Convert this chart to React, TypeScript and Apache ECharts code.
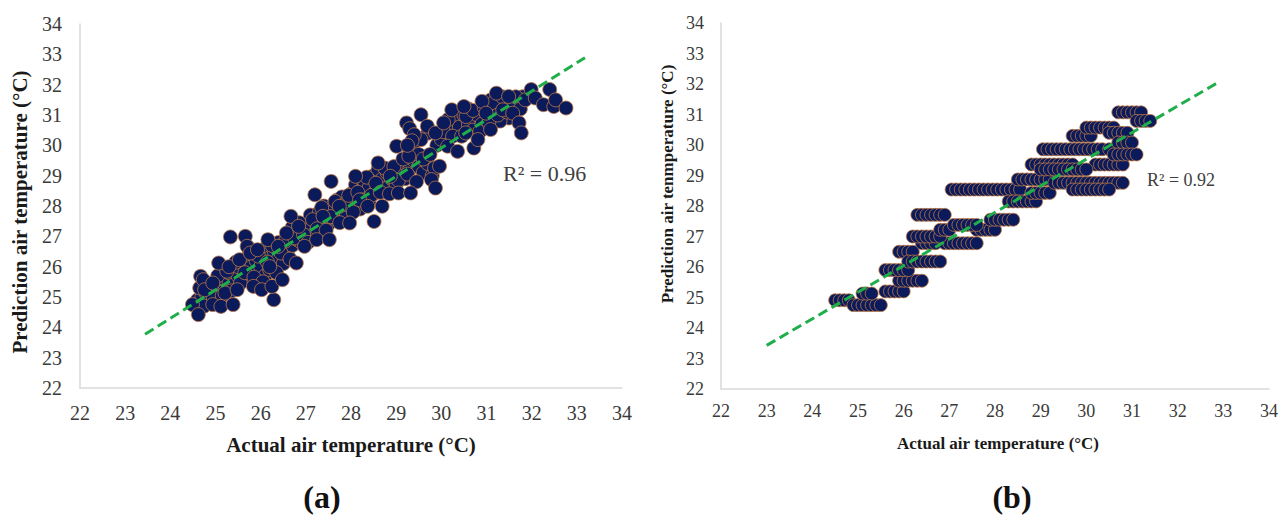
import React, { useEffect, useRef } from "react";
import * as echarts from "echarts";

// ---------- Data ----------
const ticks = [22, 23, 24, 25, 26, 27, 28, 29, 30, 31, 32, 33, 34];

// (a) scattered points: [actual, predicted]
const leftOuter: number[][] = [
  [24.49, 24.75], [24.62, 24.42], [24.67, 25.68], [24.73, 25.57], [24.76, 25.24], [24.94, 25.46],
  [24.94, 24.75], [25.07, 26.12], [25.12, 24.69], [25.21, 25.13], [25.33, 26.98], [25.39, 24.75],
  [25.3, 26.0], [25.48, 25.24], [25.53, 26.23], [25.66, 27.0], [25.7, 26.67], [25.77, 26.45],
  [25.84, 25.35], [25.93, 26.56], [26.02, 25.24], [26.16, 26.89], [26.2, 26.0], [26.29, 24.91],
  [26.25, 25.35], [26.39, 26.67], [26.48, 25.57], [26.57, 27.11], [26.67, 27.66], [26.79, 26.12],
  [26.84, 27.33], [26.97, 26.67], [27.2, 28.37], [27.24, 26.89], [27.38, 27.66], [27.52, 26.89],
  [27.56, 28.81], [27.74, 27.99], [27.97, 27.44], [28.1, 28.98], [28.19, 28.2], [28.37, 27.99],
  [28.51, 27.49], [28.6, 29.42], [28.69, 27.99], [28.87, 28.98], [29.01, 29.97], [29.05, 28.43],
  [29.23, 30.74], [29.28, 29.64], [29.32, 28.43], [29.55, 31.01], [29.55, 30.19], [29.69, 30.63],
  [29.78, 28.87], [29.87, 30.41], [29.87, 28.59], [29.96, 29.31], [30.05, 30.74], [30.14, 29.97],
  [30.23, 31.17], [30.36, 29.8], [30.5, 31.28], [30.54, 30.41], [30.72, 29.91], [30.81, 30.19],
  [30.9, 31.45], [30.99, 31.06], [31.09, 30.52], [31.22, 31.72], [31.36, 31.17], [31.49, 31.61],
  [31.58, 31.06], [31.72, 30.74], [31.77, 30.41], [31.86, 31.5], [31.99, 31.84], [32.08, 31.56],
  [32.26, 31.34], [32.4, 31.84], [32.49, 31.28], [32.53, 31.5], [32.76, 31.23],
  [29.3, 30.55], [29.4, 30.35], [29.35, 30.15], [29.25, 30.0],
];

const leftInner: number[][] = [
  [24.6, 24.9], [24.7, 25.0], [24.8, 25.1], [24.9, 25.2], [24.85, 24.9], [25.0, 25.0], [25.0, 25.3],
  [25.1, 25.4], [25.2, 25.6], [25.2, 25.2], [25.3, 25.5], [25.3, 25.8], [25.4, 25.9], [25.4, 25.4],
  [25.5, 25.7], [25.5, 26.0], [25.6, 25.6], [25.6, 26.2], [25.7, 25.9], [25.7, 26.3], [25.8, 26.0],
  [25.8, 26.5], [25.9, 25.8], [25.9, 26.2], [26.0, 26.0], [26.0, 26.4], [26.1, 26.6], [26.1, 25.7],
  [26.2, 26.3], [26.2, 25.9], [26.3, 26.5], [26.3, 26.1], [26.4, 26.3], [26.4, 26.8], [26.5, 26.6],
  [26.5, 26.1], [26.6, 26.4], [26.6, 27.0], [26.7, 26.7], [26.7, 27.3], [26.8, 26.9], [26.8, 27.1],
  [26.9, 27.2], [26.9, 26.8], [27.0, 27.0], [27.0, 27.4], [27.1, 27.3], [27.1, 27.7], [27.2, 27.5],
  [27.2, 27.1], [27.3, 27.8], [27.3, 27.3], [27.4, 27.6], [27.4, 28.0], [27.5, 27.4], [27.5, 27.8],
  [27.6, 28.0], [27.6, 27.6], [27.7, 28.2], [27.7, 27.7], [27.8, 27.9], [27.8, 28.3], [27.9, 28.1],
  [27.9, 27.7], [28.0, 28.4], [28.0, 28.0], [28.1, 28.2], [28.1, 28.7], [28.2, 28.5], [28.2, 27.9],
  [28.3, 28.8], [28.3, 28.3], [28.4, 28.6], [28.4, 28.1], [28.5, 29.0], [28.5, 28.4], [28.6, 28.7],
  [28.6, 29.2], [28.7, 28.9], [28.7, 28.5], [28.8, 29.1], [28.8, 28.6], [28.9, 28.9], [29.0, 29.2],
  [29.0, 28.7], [29.1, 29.0], [29.2, 29.4], [29.2, 28.9], [29.3, 29.8], [29.3, 29.2], [29.4, 29.5],
  [29.4, 30.1], [29.5, 29.3], [29.5, 29.7], [29.6, 29.1], [29.7, 29.4], [29.7, 30.4], [29.8, 29.0],
  [29.9, 30.0], [30.0, 30.2], [30.2, 30.5], [30.3, 30.9], [30.4, 30.6], [30.5, 31.0], [30.6, 30.7],
  [30.6, 31.2], [30.7, 30.5], [30.8, 31.0], [30.9, 30.7], [31.0, 31.3], [31.1, 31.0], [31.1, 31.5],
  [31.2, 31.2], [31.3, 31.5], [31.4, 31.3], [31.5, 31.5], [31.6, 31.3], [31.7, 31.5], [31.8, 31.6],
  [31.5, 30.9], [31.3, 30.8],
  // denser core
  [24.65, 25.3], [24.75, 24.7], [24.95, 25.0], [25.05, 25.7], [25.15, 25.05], [25.25, 25.85],
  [25.35, 25.2], [25.45, 26.15], [25.55, 25.45], [25.65, 25.8], [25.75, 26.6], [25.85, 25.65],
  [25.95, 26.35], [26.05, 25.5], [26.15, 26.15], [26.25, 26.7], [26.35, 25.8], [26.45, 26.45],
  [26.55, 26.85], [26.65, 26.25], [26.75, 26.95], [26.85, 27.45], [26.95, 27.05], [27.05, 26.8],
  [27.15, 27.55], [27.25, 27.25], [27.35, 27.95], [27.45, 27.2], [27.55, 27.65], [27.65, 28.15],
  [27.75, 27.45], [27.85, 28.05], [27.95, 28.35], [28.05, 27.8], [28.15, 28.45], [28.25, 28.2],
  [28.35, 28.95], [28.45, 28.35], [28.55, 28.75], [28.65, 28.45], [28.75, 29.25], [28.85, 28.4],
  [28.95, 29.3], [29.05, 28.85], [29.15, 29.55], [29.25, 29.05], [29.45, 28.8], [29.6, 29.55],
  [29.75, 29.7], [29.85, 29.25], [30.05, 30.45], [30.15, 30.85], [30.25, 30.3], [30.45, 30.3],
  [30.55, 30.95], [30.7, 31.15], [30.85, 30.45], [30.95, 31.25], [31.05, 30.75], [31.15, 31.4],
  [31.25, 31.0], [31.35, 31.6], [31.45, 31.1], [31.55, 31.35], [31.65, 31.6], [31.75, 31.2],
];

// (b) predicted values come in discrete levels: one list of actual values per level
const rightLevels = [
  24.91, 24.75, 25.13, 25.2, 25.55, 25.9, 26.5, 26.18, 26.78, 27.0, 27.22, 27.38, 27.71, 27.55,
  28.54, 28.15, 28.43, 28.87, 28.76, 28.54, 29.36, 29.2, 29.86, 30.3, 30.57, 30.4, 30.08, 29.69,
  31.07, 30.79,
];
const rightActual: number[][] = [
  [24.5, 24.6, 24.7, 24.8],
  [24.9, 25.0, 25.1, 25.2, 25.3, 25.4, 25.5],
  [25.1, 25.2, 25.3],
  [25.6, 25.7, 25.8, 25.9, 26.0],
  [25.9, 26.0, 26.1, 26.2, 26.3, 26.4],
  [25.6, 25.7, 25.8, 25.9, 26.0, 26.1],
  [25.9, 26.0, 26.1, 26.2],
  [26.1, 26.2, 26.3, 26.4, 26.5, 26.6, 26.7, 26.8],
  [26.4, 26.5, 26.6, 26.7, 26.9, 27.0, 27.1, 27.2, 27.3, 27.4, 27.5, 27.6],
  [26.2, 26.3, 26.4, 26.5, 26.6, 26.7, 26.8],
  [26.8, 26.9, 27.0, 27.6, 27.7, 27.8, 27.9, 28.0],
  [27.1, 27.2, 27.3, 27.4, 27.5, 27.6],
  [26.3, 26.4, 26.5, 26.6, 26.7, 26.8, 26.9],
  [27.9, 28.0, 28.1, 28.2, 28.3, 28.4],
  [27.05, 27.15, 27.25, 27.35, 27.45, 27.55, 27.65, 27.75, 27.85, 27.95, 28.05, 28.15, 28.25, 28.35, 28.45, 28.55],
  [28.3, 28.4, 28.5, 28.6, 28.7, 28.8, 28.9],
  [28.8, 28.9, 29.0, 29.1, 29.2],
  [28.5, 28.6, 28.7, 28.8, 28.9, 29.0, 29.1, 29.2],
  [29.3, 29.4, 29.5, 29.6, 29.7, 29.8, 29.9, 30.0, 30.1, 30.2, 30.3, 30.4, 30.5, 30.6, 30.7, 30.8],
  [29.7, 29.8, 29.9, 30.0, 30.1, 30.2, 30.3, 30.4, 30.5],
  [28.8, 28.9, 29.0, 29.1, 29.2, 29.3, 29.4, 29.5, 29.6, 29.7, 30.2, 30.3, 30.4, 30.5, 30.6, 30.7, 30.8],
  [29.0, 29.1, 29.2, 29.3, 29.4, 29.5, 29.6, 29.7, 29.8, 29.9, 30.0],
  [29.05, 29.15, 29.25, 29.35, 29.45, 29.55, 29.65, 29.75, 29.85, 29.95, 30.05, 30.15, 30.25, 30.35, 30.5],
  [29.7, 29.8, 29.9, 30.0, 30.1],
  [30.0, 30.1, 30.2, 30.3, 30.4, 30.5, 30.6],
  [30.5, 30.6, 30.7, 30.8, 30.9],
  [30.7, 30.8, 30.9, 31.0],
  [30.6, 30.7, 30.8, 30.9, 31.0, 31.1],
  [30.7, 30.8, 30.9, 31.0, 31.1, 31.2],
  [31.1, 31.2, 31.3, 31.4],
];

// trend lines (end points)
const leftTrend: number[][] = [[23.44, 23.77], [33.18, 32.89]];
const rightTrend: number[][] = [[23.0, 23.43], [32.85, 32.02]];
const leftR2 = "R² = 0.96";
const rightR2 = "R² = 0.92";

// ---------- Chart ----------
const FONT = "'Liberation Serif', 'Times New Roman', serif";
const FILL = "#0b1a5a";
const EDGE = "#c07a45";
const GREEN = "#1fae4a";

export default function App() {
  const ref = useRef<HTMLDivElement>(null);

  useEffect(() => {
    if (!ref.current) return;
    const chart = echarts.init(ref.current, undefined, { renderer: "svg" });

    const rightData: number[][] = [];
    rightLevels.forEach((y, i) => rightActual[i].forEach((x) => rightData.push([x, y])));

    const mkX = (grid: number, fs: number, margin: number) => ({
      type: "value",
      gridIndex: grid,
      min: 22,
      max: 34,
      interval: 1,
      axisLine: { show: true, lineStyle: { color: "#d9d9d9", width: 1.5 } },
      axisTick: { show: false },
      splitLine: { show: false },
      axisLabel: {
        fontFamily: FONT, fontSize: fs, color: "#3a3a3a", margin,
        showMinLabel: true, showMaxLabel: true,
        formatter: (v: number) => (ticks.includes(v) ? String(v) : ""),
      },
    });
    const mkY = (grid: number, fs: number, margin: number) => ({
      type: "value",
      gridIndex: grid,
      min: 22,
      max: 34,
      interval: 1,
      axisLine: { show: true, lineStyle: { color: "#d9d9d9", width: 1.5 } },
      axisTick: { show: false },
      splitLine: { show: false },
      axisLabel: {
        fontFamily: FONT, fontSize: fs, color: "#3a3a3a", margin,
        showMinLabel: true, showMaxLabel: true,
      },
    });
    const scatterStyle = { color: FILL, borderColor: EDGE, borderWidth: 0.8, opacity: 1 };

    chart.setOption({
      animation: false,
      backgroundColor: "#ffffff",
      grid: [
        { left: 80, right: 659, top: 24, bottom: 127 },
        { left: 721, right: 10, top: 23, bottom: 126 },
      ],
      xAxis: [mkX(0, 20, 15), mkX(1, 18, 13)],
      yAxis: [mkY(0, 20, 18), mkY(1, 18, 17)],
      series: [
        {
          type: "scatter", xAxisIndex: 0, yAxisIndex: 0, symbolSize: 14,
          data: [...leftInner, ...leftOuter], itemStyle: scatterStyle, z: 2,
        },
        {
          type: "scatter", xAxisIndex: 1, yAxisIndex: 1, symbolSize: 13,
          data: rightData, itemStyle: scatterStyle, z: 2,
        },
        {
          type: "line", xAxisIndex: 0, yAxisIndex: 0, data: leftTrend, symbol: "none", z: 5,
          lineStyle: { color: GREEN, width: 3, type: [10, 5] },
        },
        {
          type: "line", xAxisIndex: 1, yAxisIndex: 1, data: rightTrend, symbol: "none", z: 5,
          lineStyle: { color: GREEN, width: 3, type: [10, 5] },
        },
      ],
      graphic: [
        {
          type: "text", x: 20, y: 212, rotation: Math.PI / 2,
          style: { text: "Prediction air temperature (°C)", font: `bold 21px ${FONT}`, fill: "#1a1a1a", align: "center", verticalAlign: "middle" },
        },
        {
          type: "text", x: 351, y: 445,
          style: { text: "Actual air temperature (°C)", font: `bold 21px ${FONT}`, fill: "#1a1a1a", align: "center", verticalAlign: "middle" },
        },
        {
          type: "text", x: 322, y: 497,
          style: { text: "(a)", font: `bold 32px ${FONT}`, fill: "#111", align: "center", verticalAlign: "middle" },
        },
        {
          type: "text", x: 667, y: 184, rotation: Math.PI / 2,
          style: { text: "Prediction air tenmperature (°C)", font: `bold 17px ${FONT}`, fill: "#1a1a1a", align: "center", verticalAlign: "middle" },
        },
        {
          type: "text", x: 998, y: 443,
          style: { text: "Actual air temperature (°C)", font: `bold 17px ${FONT}`, fill: "#1a1a1a", align: "center", verticalAlign: "middle" },
        },
        {
          type: "text", x: 1012, y: 497,
          style: { text: "(b)", font: `bold 32px ${FONT}`, fill: "#111", align: "center", verticalAlign: "middle" },
        },
        {
          type: "text", x: 503, y: 173,
          style: { text: leftR2, font: `22px ${FONT}`, fill: "#404040", align: "left", verticalAlign: "middle" },
        },
        {
          type: "text", x: 1147, y: 180,
          style: { text: rightR2, font: `18px ${FONT}`, fill: "#404040", align: "left", verticalAlign: "middle" },
        },
      ],
    });
    return () => chart.dispose();
  }, []);

  return (
    <div
      ref={ref}
      style={{ position: "fixed", left: 0, top: 0, width: 1281, height: 515, background: "#fff" }}
    />
  );
}
